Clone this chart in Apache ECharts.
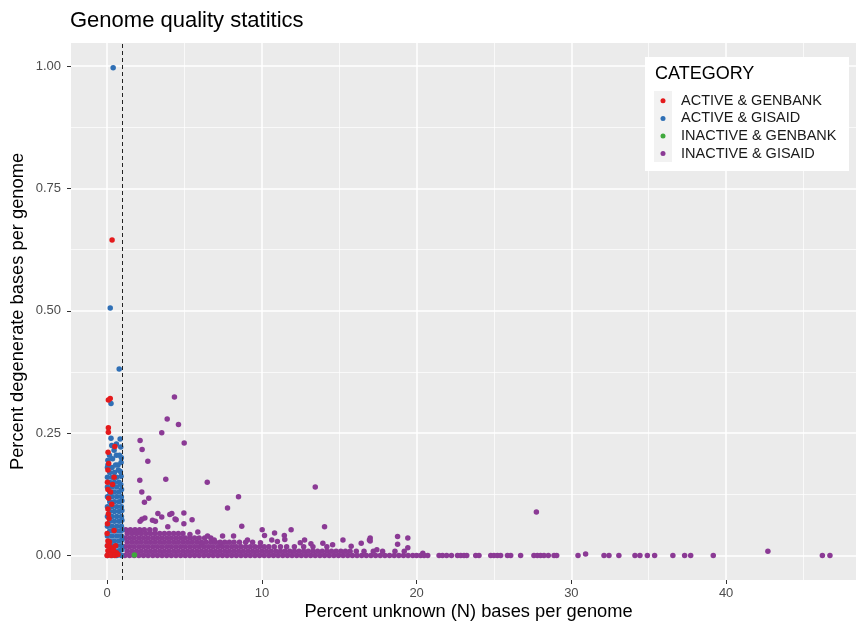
<!DOCTYPE html>
<html><head><meta charset="utf-8">
<script src="https://cdn.jsdelivr.net/npm/echarts@6/dist/echarts.min.js"></script>
<style>html,body{margin:0;padding:0;background:#fff}#c{width:856px;height:622px}</style>
</head><body><div id="c"></div><script>
// ---- data ----
const categories = ['ACTIVE & GENBANK', 'ACTIVE & GISAID', 'INACTIVE & GENBANK', 'INACTIVE & GISAID'];
const xTicks = [0, 10, 20, 30, 40];
const xMinorTicks = [5, 15, 25, 35, 45];
const yTicks = [0, 0.25, 0.5, 0.75, 1];
const yMinorTicks = [0.125, 0.375, 0.625, 0.875];
const xRange = [-2.335, 49.04];
const yRange = [-0.0499, 1.0474];
const thresholdN = 1;

const activeGenbank = [[0.32,0.645],[0.2,0.321],[0.08,0.318],[0.08,0.261],[0.08,0.252],[0.5,0.223],[0.06,0.211],[0.1,0.188],[0.05,0.175],[0.45,0.160],[0.02,0.150],[0.35,0.145],[0.05,0.135],[0.22,0.130],[0.1,0.117],[0.3,0.105],[0.05,0.095],[0.08,0.085],[0.12,0.076],[0.02,0.065],[0.45,0.051],[0.0,0.045],[0.05,0.030],[0.15,0.028],[0.02,0.020],[0.2,0.018],[0.05,0.010],[0.3,0.008],[0.6,0.006],[0.0,0.0],[0.25,0.0],[0.5,0.0],[0.7,0.002],[0.4,0.012],[0.55,0.02]];

const activeGisaidSparse = [[0.39,0.997],[0.2,0.506],[0.78,0.381],[0.25,0.311],[0.25,0.240],[0.84,0.238],[0.6,0.228],[0.88,0.222],[0.45,0.215],[0.8,0.205],[0.15,0.205],[0.9,0.19],[0.7,0.185],[0.85,0.172],[0.05,0.195],[0.35,0.198],[0.05,0.185],[0.6,0.205],[0.92,0.2],[0.3,0.225]];
const activeGisaidDense = [
[0.02,0],[0.32,0],[0.62,0],[0.92,0],
[0.17,0.01],[0.47,0.01],[0.77,0.01],[0.95,0.012],
[0.02,0.02],[0.32,0.02],[0.62,0.02],[0.92,0.02],
[0.17,0.03],[0.47,0.03],[0.77,0.03],[0.95,0.032],
[0.02,0.04],[0.32,0.04],[0.62,0.04],[0.92,0.04],
[0.17,0.05],[0.47,0.05],[0.77,0.05],[0.95,0.052],
[0.02,0.06],[0.32,0.06],[0.62,0.06],[0.92,0.06],
[0.17,0.07],[0.47,0.07],[0.77,0.07],[0.95,0.072],
[0.02,0.08],[0.32,0.08],[0.62,0.08],[0.92,0.08],
[0.17,0.09],[0.47,0.09],[0.77,0.09],[0.95,0.092],
[0.02,0.10],[0.32,0.10],[0.62,0.10],[0.92,0.10],
[0.17,0.11],[0.47,0.11],[0.77,0.11],[0.95,0.112],
[0.02,0.12],[0.32,0.12],[0.62,0.12],[0.92,0.12],
[0.17,0.13],[0.47,0.13],[0.77,0.13],[0.93,0.135],
[0.02,0.14],[0.32,0.14],[0.62,0.14],[0.88,0.145],
[0.17,0.15],[0.47,0.15],[0.77,0.15],
[0.02,0.16],[0.32,0.16],[0.62,0.16],[0.9,0.162],
[0.17,0.17],[0.47,0.17],[0.72,0.175],
[0.02,0.18],[0.32,0.18],[0.55,0.185]
];
const inactiveGenbank = [[1.76,0.001]];

const inactiveGisaidBandLevels = [0, 0.009, 0.018, 0.027, 0.036, 0.045, 0.053];
const inactiveGisaidBandXs = [
[1.15,1.45,1.75,2.05,2.35,2.65,2.95,3.25,3.55,3.85,4.15,4.45,4.75,5.05,5.35,5.65,5.95,6.25,6.55,6.85,7.15,7.45,7.75,8.05,8.35,8.65,8.95,9.25,9.55,9.85,10.15,10.45,10.75,11.05,11.35,11.65,11.95,12.25,12.55,12.85,13.15,13.45,13.75,14.05,14.35,14.65,14.95,15.25,15.55,15.85,16.15,16.45,16.75,17.05,17.35,17.65,17.95,18.25,18.55,18.85,19.15,19.45,19.75,20.0],
[1.3,1.6,1.9,2.2,2.5,2.8,3.1,3.4,3.7,4.0,4.3,4.6,4.9,5.2,5.5,5.8,6.1,6.4,6.7,7.0,7.3,7.6,7.9,8.2,8.5,8.8,9.1,9.4,9.7,10.0,10.3,10.6,10.9,11.2,11.5,11.8,12.1,12.4,12.7,13.0,13.3,13.6,13.9,14.2,14.5,14.8,15.1,15.4,15.7,16.1,16.6,17.2,17.8,18.6,19.2],
[1.15,1.45,1.75,2.05,2.35,2.65,2.95,3.25,3.55,3.85,4.15,4.45,4.75,5.05,5.35,5.65,5.95,6.25,6.55,6.85,7.15,7.45,7.75,8.05,8.35,8.65,8.95,9.25,9.55,9.85,10.15,10.45,10.8,11.2,11.6,12.1,12.7,13.3,14.2],
[1.3,1.6,1.9,2.2,2.5,2.8,3.1,3.4,3.7,4.0,4.3,4.6,4.9,5.2,5.5,5.8,6.1,6.4,6.7,7.0,7.3,7.6,7.9,8.2,8.55,8.95,9.4],
[1.15,1.45,1.75,2.05,2.35,2.65,2.95,3.25,3.55,3.85,4.15,4.45,4.75,5.05,5.35,5.65,5.95,6.3,6.7],
[1.3,1.6,1.9,2.2,2.5,2.8,3.1,3.4,3.7,4.0,4.3,4.6,4.9],
[1.2,1.5,1.8,2.1,2.4,2.75,3.1]
];
const inactiveGisaidSparse = [[4.35,0.324],[3.88,0.279],[4.61,0.268],[3.53,0.251],[2.13,0.235],[4.98,0.230],[2.26,0.217],[2.63,0.193],[2.11,0.154],[3.79,0.156],[6.47,0.150],[13.45,0.140],[2.24,0.130],[8.49,0.120],[2.69,0.117],[2.41,0.109],[7.78,0.097],[27.74,0.089],[3.28,0.086],[4.18,0.086],[4.96,0.087],[4.05,0.084],[3.53,0.079],[2.44,0.077],[2.25,0.074],[4.39,0.075],[4.46,0.073],[5.49,0.073],[2.93,0.072],[2.13,0.070],[3.12,0.070],[4.96,0.065],[3.92,0.059],[8.7,0.060],[14.05,0.059],[10.02,0.053],[11.89,0.053],[5.86,0.048],[10.82,0.046],[5.35,0.043],[10.17,0.041],[11.45,0.041],[6.49,0.040],[7.46,0.040],[8.17,0.040],[18.77,0.039],[17.0,0.036],[19.43,0.036],[6.92,0.032],[9.07,0.032],[10.64,0.032],[11.48,0.033],[12.76,0.032],[15.24,0.032],[16.95,0.032],[17.0,0.030],[11.0,0.029],[9.91,0.026],[12.48,0.026],[13.94,0.025],[16.42,0.025],[7.35,0.025],[13.17,0.024],[6.12,0.023],[18.77,0.023],[14.57,0.022],[15.77,0.019],[19.43,0.016],[17.43,0.012],[20.4,0.005],[30.92,0.003],[42.7,0.009]];
const inactiveGisaidTailX = [20.26,20.48,20.72,21.45,21.67,21.94,22.25,22.64,22.85,23.06,23.24,23.82,24.03,24.79,25.0,25.22,25.43,25.87,26.08,26.72,27.58,27.80,28.01,28.23,28.51,28.88,29.05,30.43,32.11,32.43,33.07,34.11,34.43,34.91,35.38,36.56,37.32,37.71,39.17,46.22,46.71];

// ---- build ----
const inactiveGisaid = [];
inactiveGisaidBandXs.forEach((xs, i) => xs.forEach(x => inactiveGisaid.push([x, inactiveGisaidBandLevels[i]])));
inactiveGisaidSparse.forEach(p => inactiveGisaid.push(p));
inactiveGisaidTailX.forEach(x => inactiveGisaid.push([x, 0]));
const activeGisaid = activeGisaidDense.concat(activeGisaidSparse);

const FONT = '"Liberation Sans", Arial, Helvetica, sans-serif';
const colors = ['#e41a1c', '#2f6fb5', '#3fa83c', '#8b3a95'];
const chart = echarts.init(document.getElementById('c'), null, {renderer: 'canvas'});

function mkX(main) {
  return {
    type: 'value', min: xRange[0], max: xRange[1], position: main ? 'bottom' : 'top',
    axisLine: {show: false, onZero: false},
    axisTick: {show: main, length: 4, lineStyle: {color: '#333', width: 1}, customValues: main ? xTicks : xMinorTicks},
    axisLabel: main ? {customValues: xTicks, color: '#4d4d4d', fontSize: 13, margin: 7, fontFamily: FONT} : {show: false},
    splitLine: {show: true, lineStyle: {color: '#fff', width: main ? 1.5 : 0.7}},
    name: main ? 'Percent unknown (N) bases per genome' : '',
    nameLocation: 'middle', nameGap: 23, nameMoveOverlap: false,
    nameTextStyle: {fontSize: 18.3, color: '#000', fontFamily: FONT}
  };
}
function mkY(main) {
  return {
    type: 'value', min: yRange[0], max: yRange[1], position: main ? 'left' : 'right',
    axisLine: {show: false, onZero: false},
    axisTick: {show: main, length: 4, lineStyle: {color: '#333', width: 1}, customValues: main ? yTicks : yMinorTicks},
    axisLabel: main ? {customValues: yTicks, color: '#4d4d4d', fontSize: 13, margin: 10, fontFamily: FONT, formatter: v => v.toFixed(2)} : {show: false},
    splitLine: {show: true, lineStyle: {color: '#fff', width: main ? 1.5 : 0.7}},
    name: main ? 'Percent degenerate bases per genome' : '',
    nameLocation: 'middle', nameGap: 44, nameRotate: 90, nameMoveOverlap: false,
    nameTextStyle: {fontSize: 18.3, color: '#000', fontFamily: FONT}
  };
}

const seriesData = [activeGenbank, activeGisaid, inactiveGenbank, inactiveGisaid];
const zs = [4, 3, 5, 2];
const series = categories.map((name, i) => ({
  name, type: 'scatter', data: seriesData[i], symbolSize: 5.5, symbol: 'circle',
  itemStyle: {color: colors[i], opacity: 1}, z: zs[i], silent: true
}));
series.push({
  type: 'scatter', data: [], z: 6, silent: true,
  markLine: {silent: true, symbol: 'none', label: {show: false}, animation: false,
    lineStyle: {type: [4, 3], color: '#222', width: 1}, data: [{xAxis: thresholdN}]}
});

chart.setOption({
  animation: false,
  textStyle: {fontFamily: FONT},
  title: {text: 'Genome quality statitics', left: 70, top: 10, padding: 0,
    textStyle: {fontSize: 22, fontWeight: 'normal', color: '#000', fontFamily: FONT}},
  grid: {left: 71, top: 43, width: 795, height: 537, show: true, backgroundColor: '#ebebeb', borderWidth: 0, outerBoundsMode: 'none', containLabel: false},
  xAxis: [mkX(true), mkX(false)],
  yAxis: [mkY(true), mkY(false)],
  legend: {data: categories, orient: 'vertical', left: 660.5, top: 92, padding: 0, itemGap: 0,
    itemWidth: 5, itemHeight: 5, icon: 'circle', selectedMode: false, z: 20,
    textStyle: {fontSize: 14.5, color: '#1a1a1a', lineHeight: 17.6, padding: [0, 0, 0, 10.5], fontFamily: FONT}},
  graphic: [
    {type: 'rect', z: 10, shape: {x: 645, y: 57, width: 204, height: 114}, style: {fill: '#fff'}},
    {type: 'rect', z: 11, shape: {x: 654, y: 91, width: 18, height: 71}, style: {fill: '#f2f2f2'}},
    {type: 'text', z: 12, x: 655, y: 74, style: {text: 'CATEGORY', fontSize: 18, fill: '#000', verticalAlign: 'middle', fontFamily: FONT}}
  ],
  series
});
</script></body></html>
